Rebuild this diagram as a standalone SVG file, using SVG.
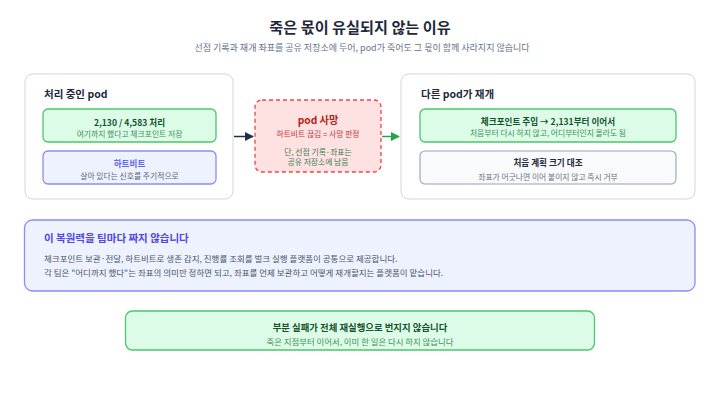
<svg xmlns="http://www.w3.org/2000/svg" width="720" height="394" viewBox="0 0 720 394">
<defs>
<marker id="ahNavy" viewBox="0 0 10 10" refX="9" refY="5" markerWidth="9" markerHeight="9" markerUnits="userSpaceOnUse" orient="auto"><path d="M0,0 L10,5 L0,10 z" fill="#1e2f4d"/></marker>
<marker id="ahGreen" viewBox="0 0 10 10" refX="9" refY="5" markerWidth="9" markerHeight="9" markerUnits="userSpaceOnUse" orient="auto"><path d="M0,0 L10,5 L0,10 z" fill="#22a54b"/></marker>
</defs>
<style>
text{font-family:"Noto Sans CJK KR","Noto Sans",sans-serif;dominant-baseline:central}
.c{text-anchor:middle}
.b{font-weight:700}
.panel{fill:#ffffff;stroke:#d4d7dd;stroke-width:1}
.green{fill:#dcfce7;stroke:#4cc56f;stroke-width:1.3}
.purple{fill:#eef2ff;stroke:#8b8cf5;stroke-width:1.3}
.gray{fill:#f8fafc;stroke:#9aa3b2;stroke-width:1.1}
.red{fill:#fee2e2;stroke:#ef4444;stroke-width:1.3;stroke-dasharray:4 3}
.ptitle{font-size:10.5px;font-weight:700;fill:#1e293b}
.btitle{font-size:8.6px;font-weight:700}
.sub{font-size:7.8px}
</style>
<rect width="720" height="394" fill="#ffffff"/>
<g id="header">
<text class="c b" x="360" y="26" font-size="15.2" fill="#1e293b">죽은 몫이 유실되지 않는 이유</text>
<text class="c" x="362" y="47" font-size="9" fill="#64748b">선점 기록과 재개 좌표를 공유 저장소에 두어, pod가 죽어도 그 몫이 함께 사라지지 않습니다</text>
</g>
<g id="connectors">
<line x1="234" y1="136.5" x2="253" y2="136.5" stroke="#1e2f4d" stroke-width="1.5" marker-end="url(#ahNavy)"/>
<line x1="382" y1="136.5" x2="399" y2="136.5" stroke="#22a54b" stroke-width="1.5" marker-end="url(#ahGreen)"/>
</g>
<g id="node-processing">
<rect class="panel" x="25" y="74" width="208" height="125" rx="8"/>
<text class="ptitle" x="44" y="93">처리 중인 pod</text>
<g id="node-progress">
<rect class="green" x="43" y="109" width="173" height="33" rx="5"/>
<text class="c btitle" x="129.5" y="121.5" fill="#14532d">2,130 / 4,583 처리</text>
<text class="c sub" x="129.5" y="133.5" fill="#3f8f5a">여기까지 했다고 체크포인트 저장</text>
</g>
<g id="node-heartbeat">
<rect class="purple" x="43" y="151" width="173" height="33" rx="5"/>
<text class="c btitle" x="129.5" y="162.5" fill="#6366f1">하트비트</text>
<text class="c sub" x="129.5" y="175.5" fill="#5b6475">살아 있다는 신호를 주기적으로</text>
</g>
</g>
<g id="node-death">
<rect class="red" x="255" y="100" width="126" height="72" rx="7"/>
<text class="c b" x="318" y="119" font-size="10.2" fill="#b91c1c">pod 사망</text>
<text class="c sub" x="318" y="133.5" fill="#c0393b">하트비트 끊김 = 사망 판정</text>
<text class="c sub" x="318" y="151" fill="#3d7d53">단, 선점 기록·좌표는</text>
<text class="c sub" x="318" y="161.5" fill="#3d7d53">공유 저장소에 남음</text>
</g>
<g id="node-resume">
<rect class="panel" x="401" y="74" width="294" height="125" rx="8"/>
<text class="ptitle" x="421" y="93">다른 pod가 재개</text>
<g id="node-inject">
<rect class="green" x="420" y="109" width="256" height="33" rx="5"/>
<text class="c btitle" x="548" y="120.5" fill="#14532d">체크포인트 주입 → 2,131부터 이어서</text>
<text class="c sub" x="548" y="132.5" fill="#3f8f5a">처음부터 다시 하지 않고, 어디부터인지 몰라도 됨</text>
</g>
<g id="node-compare">
<rect class="gray" x="420" y="151" width="256" height="33" rx="5"/>
<text class="c btitle" x="548" y="161.5" fill="#1e293b">처음 계획 크기 대조</text>
<text class="c sub" x="548" y="176.5" fill="#6b7280">좌표가 어긋나면 이어 붙이지 않고 즉시 거부</text>
</g>
</g>
<g id="node-platform">
<rect class="purple" x="24.5" y="220" width="670.5" height="71" rx="8" stroke-width="1.5"/>
<text class="b" x="44" y="237.5" font-size="10.5" fill="#4f46e5">이 복원력을 팀마다 짜지 않습니다</text>
<text x="44" y="257.5" font-size="8.5" fill="#475569">체크포인트 보관·전달, 하트비트로 생존 감지, 진행률 조회를 벌크 실행 플랫폼이 공통으로 제공합니다.</text>
<text x="44" y="272" font-size="8.5" fill="#475569">각 팀은 "어디까지 했다"는 좌표의 의미만 정하면 되고, 좌표를 언제 보관하고 어떻게 재개할지는 플랫폼이 맡습니다.</text>
</g>
<g id="node-result">
<rect class="green" x="125.5" y="311" width="469" height="39" rx="7" stroke-width="1.5"/>
<text class="c b" x="360" y="326.5" font-size="9.4" fill="#14532d">부분 실패가 전체 재실행으로 번지지 않습니다</text>
<text class="c" x="360" y="340.5" font-size="8.4" fill="#3f8f5a">죽은 지점부터 이어서, 이미 한 일은 다시 하지 않습니다</text>
</g>
</svg>
